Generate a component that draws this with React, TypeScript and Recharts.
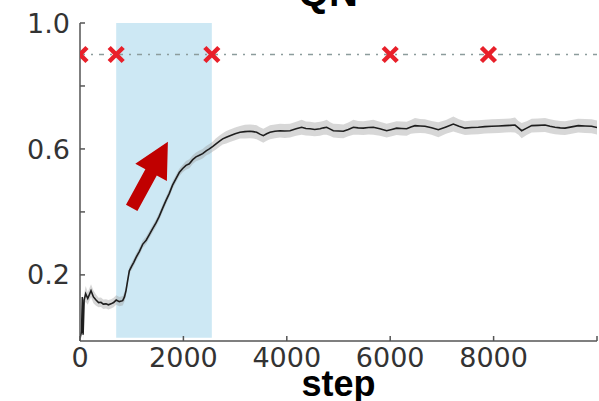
import React from "react"
import {
  ComposedChart,
  Line,
  Area,
  XAxis,
  YAxis,
  ReferenceArea,
  ReferenceLine,
} from "recharts"

// QN training curve (mean and spread)
const steps = [
  0, 30, 45, 60, 80, 110, 150, 213, 260, 310, 360, 406, 450, 503, 550, 600, 650, 700, 760, 826,
  860, 890, 920, 954, 1000, 1040, 1083, 1150, 1212, 1280, 1341, 1400, 1470, 1530, 1599, 1660,
  1728, 1790, 1857, 1920, 1986, 2050, 2115, 2180, 2244, 2310, 2373, 2440, 2502, 2570, 2631,
  2700, 2760, 2830, 2901, 3000, 3095, 3190, 3288, 3350, 3417, 3480, 3546, 3610, 3675, 3770,
  3868, 3960, 4062, 4180, 4288, 4370, 4449, 4540, 4642, 4710, 4771, 4840, 4900, 5000, 5093,
  5190, 5287, 5380, 5480, 5580, 5673, 5800, 5932, 6030, 6125, 6220, 6319, 6400, 6480, 6580,
  6673, 6800, 6931, 7080, 7221, 7330, 7447, 7580, 7704, 7830, 7963, 8100, 8221, 8320, 8414,
  8480, 8543, 8640, 8737, 8860, 8994, 9090, 9188, 9290, 9381, 9510, 9638, 9770, 9896, 10000,
]

const qnMean = [
  0.0, 0.02, 0.13, 0.01, 0.12, 0.14, 0.125, 0.15, 0.13, 0.12, 0.112, 0.113, 0.107, 0.108, 0.105,
  0.108, 0.112, 0.12, 0.115, 0.118, 0.13, 0.15, 0.18, 0.213, 0.228, 0.24, 0.255, 0.275, 0.297,
  0.31, 0.328, 0.345, 0.365, 0.385, 0.412, 0.435, 0.459, 0.485, 0.506, 0.525, 0.538, 0.548,
  0.553, 0.566, 0.575, 0.58, 0.585, 0.594, 0.6, 0.608, 0.616, 0.625, 0.632, 0.637, 0.642, 0.648,
  0.653, 0.655, 0.656, 0.655, 0.653, 0.647, 0.642, 0.648, 0.653, 0.656, 0.658, 0.657, 0.658,
  0.664, 0.669, 0.665, 0.664, 0.662, 0.664, 0.667, 0.669, 0.663, 0.658, 0.657, 0.656, 0.662,
  0.669, 0.667, 0.666, 0.668, 0.669, 0.664, 0.658, 0.662, 0.666, 0.665, 0.664, 0.67, 0.674,
  0.673, 0.672, 0.667, 0.661, 0.67, 0.679, 0.672, 0.666, 0.668, 0.669, 0.671, 0.672, 0.673,
  0.674, 0.675, 0.676, 0.667, 0.658, 0.666, 0.674, 0.675, 0.676, 0.672, 0.669, 0.667, 0.666,
  0.67, 0.674, 0.673, 0.672, 0.668,
]

const qnSpread = [
  0.0, 0.02, 0.02, 0.02, 0.02, 0.025, 0.02, 0.02, 0.02, 0.018, 0.015, 0.015, 0.015, 0.015, 0.015,
  0.015, 0.015, 0.015, 0.015, 0.015, 0.015, 0.015, 0.012, 0.012, 0.012, 0.012, 0.012, 0.012,
  0.012, 0.012, 0.012, 0.012, 0.012, 0.012, 0.012, 0.012, 0.012, 0.012, 0.012, 0.012, 0.012,
  0.014, 0.014, 0.014, 0.014, 0.015, 0.015, 0.015, 0.016, 0.016, 0.018, 0.018, 0.018, 0.02, 0.02,
  0.02, 0.02, 0.022, 0.022, 0.022, 0.022, 0.022, 0.022, 0.022, 0.022, 0.022, 0.022, 0.022, 0.022,
  0.022, 0.024, 0.022, 0.022, 0.022, 0.022, 0.022, 0.024, 0.022, 0.022, 0.022, 0.022, 0.022,
  0.024, 0.022, 0.022, 0.022, 0.024, 0.022, 0.022, 0.022, 0.022, 0.022, 0.022, 0.022, 0.024,
  0.022, 0.022, 0.022, 0.024, 0.022, 0.024, 0.022, 0.022, 0.022, 0.022, 0.022, 0.022, 0.022,
  0.022, 0.022, 0.024, 0.022, 0.024, 0.022, 0.022, 0.022, 0.022, 0.022, 0.022, 0.022, 0.022,
  0.022, 0.022, 0.022, 0.022, 0.022,
]

// red X markers on the dash-dot reference level
const markerSteps = [0, 700, 2550, 6000, 7900]
const markerLevel = 0.9

// shaded phase and annotation arrow (data coords)
const shadeStart = 700
const shadeEnd = 2550
const arrowFrom = { x: 1000, y: 0.413 }
const arrowTo = { x: 1700, y: 0.623 }

const xDomain = [0, 10000]
const yTicks = [0.2, 0.4, 0.6, 0.8, 1.0]
const yLabelled = [0.2, 0.6, 1.0]
const xTicks = [0, 2000, 4000, 6000, 8000, 10000]
const xLabelled = [0, 2000, 4000, 6000, 8000]

const curveData = steps.map((s, i) => ({
  step: s,
  mean: qnMean[i],
  band: [qnMean[i] - qnSpread[i], qnMean[i] + qnSpread[i]],
}))

const markerData = markerSteps.map((s) => ({ step: s, level: markerLevel }))

const tickFont = { fontSize: 27, fill: "#333", fontFamily: "DejaVu Sans" }
const axisColor = "#555"

const CrossDot = (props: any) => {
  const { cx, cy, payload } = props
  if (cx == null || cy == null) return null
  const r = 7
  // a marker sitting on the left spine is clipped to its right half
  const d =
    payload && payload.step <= xDomain[0]
      ? `M${cx},${cy}L${cx + r},${cy + r}M${cx},${cy}L${cx + r},${cy - r}`
      : `M${cx - r},${cy - r}L${cx + r},${cy + r}M${cx - r},${cy + r}L${cx + r},${cy - r}`
  return <path d={d} stroke="#e8202a" strokeWidth={4.5} fill="none" />
}

const Arrow = (props: any) => {
  const { x1, y1, x2, y2 } = props
  if (x1 == null) return null
  const dx = x2 - x1
  const dy = y2 - y1
  const len = Math.sqrt(dx * dx + dy * dy)
  const ux = dx / len
  const uy = dy / len
  const px = -uy
  const py = ux
  const headLen = 35
  const headHalf = 18
  const shaftHalf = 6.5
  const bx = x2 - ux * headLen
  const by = y2 - uy * headLen
  const pts = [
    [x1 + px * shaftHalf, y1 + py * shaftHalf],
    [bx + px * shaftHalf, by + py * shaftHalf],
    [bx + px * headHalf, by + py * headHalf],
    [x2, y2],
    [bx - px * headHalf, by - py * headHalf],
    [bx - px * shaftHalf, by - py * shaftHalf],
    [x1 - px * shaftHalf, y1 - py * shaftHalf],
  ]
  return <polygon points={pts.map((p) => p.join(",")).join(" ")} fill="#c00000" />
}

export default function App() {
  return (
    <div style={{ position: "absolute", left: 0, top: 0, width: 599, height: 401, background: "#fff", overflow: "hidden" }}>
      <ComposedChart
        width={599}
        height={401}
        data={curveData}
        margin={{ top: 23, right: 2, bottom: 0, left: 0 }}
      >
        <XAxis
          dataKey="step"
          type="number"
          domain={xDomain}
          allowDataOverflow
          ticks={xTicks}
          tickFormatter={(v: number) => (xLabelled.includes(v) ? String(v) : "")}
          tick={tickFont}
          tickSize={-5}
          tickMargin={12}
          stroke={axisColor}
          strokeWidth={1.5}
          height={60}
          label={{
            value: "step",
            position: "insideBottom",
            offset: 5,
            style: { fontSize: 36, fontWeight: "bold", fill: "#000", fontFamily: "Liberation Sans" },
          }}
        />
        <XAxis
          xAxisId="top"
          dataKey="step"
          type="number"
          orientation="top"
          domain={xDomain}
          allowDataOverflow
          ticks={xTicks}
          tickFormatter={() => ""}
          tick={{ fontSize: 1 }}
          tickSize={-5}
          stroke={axisColor}
          strokeWidth={1.5}
          height={0}
        />
        <YAxis
          type="number"
          domain={[0, 1]}
          ticks={yTicks}
          tickFormatter={(v: number) => (yLabelled.includes(v) ? v.toFixed(1) : "")}
          tick={tickFont}
          tickSize={-5}
          tickMargin={15}
          stroke={axisColor}
          strokeWidth={1.5}
          width={80}
        />
        <YAxis
          yAxisId="right"
          orientation="right"
          type="number"
          domain={[0, 1]}
          ticks={yTicks}
          tickFormatter={() => ""}
          tick={{ fontSize: 1 }}
          tickSize={-5}
          stroke={axisColor}
          strokeWidth={1.5}
          width={0}
        />
        <ReferenceArea x1={shadeStart} x2={shadeEnd} y1={0} y2={1} fill="#cde8f4" fillOpacity={1} stroke="none" />
        <ReferenceLine y={markerLevel} stroke="#8c9c9c" strokeWidth={1.5} strokeDasharray="5 6 2 6" />
        <Area
          dataKey="band"
          stroke="none"
          fill="#9a9a9a"
          fillOpacity={0.4}
          isAnimationActive={false}
        />
        <Line
          dataKey="mean"
          stroke="#1e1e1e"
          strokeWidth={1.6}
          dot={false}
          isAnimationActive={false}
        />
        <Line
          data={markerData}
          dataKey="level"
          stroke="none"
          dot={<CrossDot />}
          isAnimationActive={false}
        />
        <ReferenceLine segment={[arrowFrom, arrowTo]} shape={<Arrow />} ifOverflow="visible" />
      </ComposedChart>
      <svg width={599} height={401} style={{ position: "absolute", left: 0, top: 0, pointerEvents: "none" }}>
        <text x={328} y={6} textAnchor="middle" fontSize={40} fontWeight="bold" fontFamily="Liberation Sans" fill="#000">
          QN
        </text>
      </svg>
    </div>
  )
}
